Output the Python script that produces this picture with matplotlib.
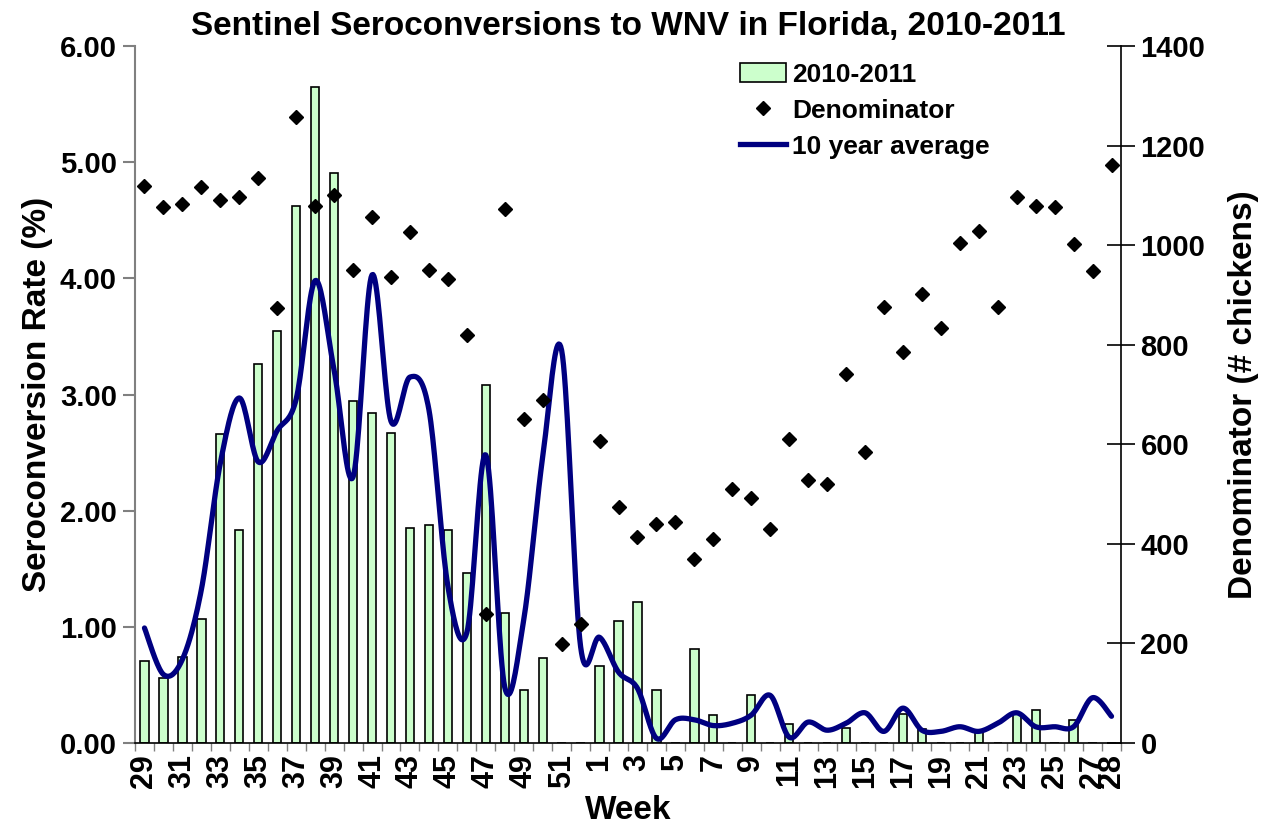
import numpy as np
import matplotlib.pyplot as plt
from matplotlib.patches import Patch
from matplotlib.lines import Line2D

plt.rcParams['font.family'] = ['Liberation Sans', 'DejaVu Sans']
plt.rcParams['font.weight'] = 'bold'

# Weeks 29-52 of 2010, then 1-28 of 2011
weeks = [29, 30, 31, 32, 33, 34, 35, 36, 37, 38, 39, 40, 41, 42, 43, 44,
         45, 46, 47, 48, 49, 50, 51, 52,
         1, 2, 3, 4, 5, 6, 7, 8, 9, 10, 11, 12, 13, 14, 15, 16, 17, 18, 19,
         20, 21, 22, 23, 24, 25, 26, 27, 28]

# Seroconversion rate (%) 2010-2011
rate_2010_2011 = [0.71, 0.56, 0.74, 1.07, 2.66, 1.83, 3.26, 3.55, 4.62, 5.65,
                  4.91, 2.94, 2.84, 2.67, 1.85, 1.88, 1.83, 1.46, 3.08, 1.12,
                  0.46, 0.73, 0.00, 0.00,
                  0.66, 1.05, 1.21, 0.46, 0.00, 0.81, 0.24, 0.00, 0.41, 0.00,
                  0.16, 0.00, 0.00, 0.13, 0.00, 0.00, 0.25, 0.12, 0.00, 0.00,
                  0.10, 0.00, 0.26, 0.28, 0.00, 0.20, 0.00, 0.00]

# Denominator (# chickens)
denominator = [1119, 1076, 1083, 1117, 1090, 1096, 1135, 874, 1257, 1079,
               1101, 951, 1056, 937, 1026, 950, 931, 819, 260, 1072,
               651, 689, 198, 239,
               606, 475, 413, 439, 443, 369, 409, 511, 492, 430,
               611, 528, 520, 741, 584, 876, 786, 901, 834, 1005,
               1028, 875, 1097, 1079, 1077, 1002, 948, 1161]

# 10 year average seroconversion rate (%)
ten_year_avg = [0.99, 0.59, 0.72, 1.32, 2.41, 2.97, 2.42, 2.69, 2.96, 3.98,
                3.21, 2.29, 4.03, 2.77, 3.15, 2.87, 1.35, 0.95, 2.48, 0.48,
                1.06, 2.46, 3.38, 0.83,
                0.91, 0.61, 0.47, 0.04, 0.20, 0.20, 0.15, 0.17, 0.24, 0.41,
                0.05, 0.18, 0.11, 0.17, 0.26, 0.10, 0.30, 0.11, 0.10, 0.14,
                0.10, 0.17, 0.26, 0.14, 0.14, 0.14, 0.39, 0.23]

# only every other week is labelled, plus the last one
week_labels = ['29', '', '31', '', '33', '', '35', '', '37', '', '39', '',
               '41', '', '43', '', '45', '', '47', '', '49', '', '51', '',
               '1', '', '3', '', '5', '', '7', '', '9', '', '11', '',
               '13', '', '15', '', '17', '', '19', '', '21', '', '23', '',
               '25', '', '27', '28']


def smooth_line(y, n=20):
    """Excel-style smoothed line (uniform Catmull-Rom through the points)."""
    y = np.asarray(y, dtype=float)
    x = np.arange(len(y), dtype=float)
    px = np.concatenate([[x[0]], x, [x[-1]]])
    py = np.concatenate([[y[0]], y, [y[-1]]])
    xs, ys = [], []
    t = np.linspace(0, 1, n, endpoint=False)
    for i in range(1, len(px) - 2):
        for p, out in ((px, xs), (py, ys)):
            p0, p1, p2, p3 = p[i - 1], p[i], p[i + 1], p[i + 2]
            out.append(0.5 * ((2 * p1) + (-p0 + p2) * t
                              + (2 * p0 - 5 * p1 + 4 * p2 - p3) * t ** 2
                              + (-p0 + 3 * p1 - 3 * p2 + p3) * t ** 3))
    xs.append([x[-1]])
    ys.append([y[-1]])
    return np.concatenate(xs), np.concatenate(ys)


fig = plt.figure(figsize=(12.65, 8.24), dpi=100)
ax = fig.add_axes([135 / 1265, 1 - 743 / 824, 986 / 1265, 697 / 824])
ax2 = ax.twinx()

pos = np.arange(len(weeks))

# bars and 10 year average on the left axis
ax.bar(pos, rate_2010_2011, width=0.44, color='#CCFFCC', edgecolor='black',
       linewidth=1.2, zorder=2)
sx, sy = smooth_line(ten_year_avg)
ax.plot(sx, sy, color='#000080', linewidth=3.8, solid_capstyle='round', zorder=3)

# denominator on the right axis
ax2.plot(pos, denominator, linestyle='none', marker='D', markersize=7,
         color='black')

ax.set_xlim(-0.5, len(weeks) - 0.5)
ax.set_ylim(0, 6)
ax2.set_ylim(0, 1400)

ax.set_yticks(np.arange(0, 7, 1))
ax.set_yticklabels([f'{v:.2f}' for v in range(7)])
ax2.set_yticks(np.arange(0, 1401, 200))

ax.set_xticks(pos)
ax.set_xticklabels(week_labels, rotation=90)
ax.set_xticks(np.arange(-0.5, len(weeks), 1), minor=True)
ax.tick_params(axis='x', which='major', length=0, pad=8, labelsize=22)
ax.tick_params(axis='x', which='minor', length=6, width=1, color='#808080')
ax.tick_params(axis='y', length=9, width=1.5, color='#808080', labelsize=21,
               pad=4)
ax2.tick_params(axis='y', direction='inout', length=20, width=1.2,
                labelsize=21, pad=4)

ax.spines['top'].set_visible(False)
ax2.spines['top'].set_visible(False)
ax.spines['left'].set_color('#808080')
ax.spines['left'].set_linewidth(1.5)
ax2.spines['left'].set_visible(False)
ax.spines['right'].set_visible(False)
ax2.spines['right'].set_linewidth(1.2)
ax2.spines['bottom'].set_visible(False)
ax.spines['bottom'].set_linewidth(1.2)

ax.set_title('Sentinel Seroconversions to WNV in Florida, 2010-2011',
             fontsize=24, fontweight='bold', pad=8)
ax.set_ylabel('Seroconversion Rate (%)', fontsize=24, fontweight='bold',
              labelpad=5)
ax2.set_ylabel('Denominator (# chickens)', fontsize=24, fontweight='bold',
               labelpad=16)
ax.set_xlabel('Week', fontsize=24, fontweight='bold', labelpad=5)

handles = [
    Patch(facecolor='#CCFFCC', edgecolor='black', linewidth=1.2),
    Line2D([], [], linestyle='none', marker='D', markersize=7, color='black'),
    Line2D([], [], color='#000080', linewidth=3.8),
]
ax2.legend(handles, ['2010-2011', 'Denominator', '10 year average'],
           loc='upper left', bbox_to_anchor=(0.589, 1.01), frameon=False,
           fontsize=19, handlelength=1.75, handletextpad=0.25,
           labelspacing=0.45)

fig.savefig('out.png', dpi=100)
